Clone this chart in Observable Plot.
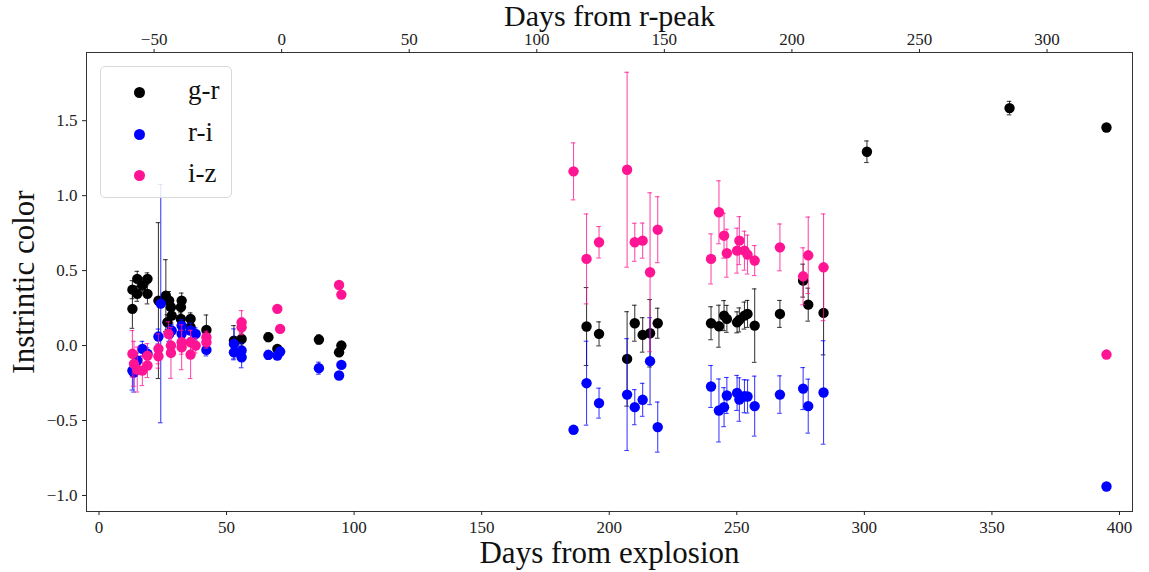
<!DOCTYPE html>
<html>
<head>
<meta charset="utf-8">
<script src="https://cdn.jsdelivr.net/npm/d3@7"></script>
<script src="https://cdn.jsdelivr.net/npm/@observablehq/plot@0.6"></script>
<style>
  body { margin: 0; background: #fff; }
  #wrap { position: relative; width: 1149px; height: 572px; font-family: "Liberation Serif", "DejaVu Serif", serif; }
  #legend { position: absolute; left: 100px; top: 66px; width: 132px; height: 132px; border: 1px solid #d8d8d8; border-radius: 5px; background: rgba(255,255,255,0.85); box-sizing: border-box; }
  .li { position: absolute; left: 0; height: 30px; width: 130px; white-space: nowrap; }
  .li .dot { position: absolute; left: 33px; top: 10px; width: 11px; height: 11px; border-radius: 50%; }
  .li .lab { position: absolute; left: 87px; top: -2px; font-size: 27px; line-height: 30px; color: #111; white-space: nowrap; }
</style>
</head>
<body>
<div id="wrap"></div>
<script>
// ---- data: g-r (black)
const grX = [13.1,13.1,15.0,15.0,17.0,19.0,19.0,23.3,26.2,27.5,28.2,26.8,28.5,32.4,32.1,32.1,35.9,35.9,42.1,52.9,55.9,66.4,69.9,86.2,94.1,95.0,
  191.1,196.0,207.0,210.0,213.1,216.0,219.0,239.9,243.0,245.0,246.1,250.1,251.0,253.0,254.2,257.0,266.9,276.0,278.0,284.0,301.0,356.9,394.9];
const grY = [0.245,0.373,0.445,0.345,0.40,0.445,0.345,0.30,0.333,0.30,0.256,0.155,0.20,0.30,0.256,0.178,0.178,0.122,0.104,0.033,0.044,0.056,-0.022,0.04,-0.045,0.0,
  0.127,0.078,-0.089,0.149,0.071,0.082,0.149,0.149,0.129,0.20,0.178,0.155,0.171,0.20,0.211,0.133,0.211,0.433,0.273,0.218,1.293,1.584,1.455];
const grE = [0.13,0.06,0.05,0.05,0.05,0.04,0.067,0.52,0.24,0.06,0.06,0.05,0.05,0.05,0.06,0.04,0.04,0.04,0.10,0.10,0.04,0.03,0.02,0.03,0.02,0.02,
  0.26,0.08,0.315,0.12,0.115,0.225,0.10,0.11,0.14,0.10,0.09,0.07,0.08,0.09,0.09,0.245,0.09,0.11,0.11,0.28,0.072,0.045,0.0];
// ---- data: r-i (blue)
const riX = [13.1,13.7,15.0,17.0,19.0,23.3,24.2,27.5,28.5,32.4,32.4,35.9,37.9,42.1,52.9,52.9,55.9,55.9,66.4,69.9,71.0,86.2,94.1,95.0,
  186.0,191.1,196.0,207.0,210.0,213.1,216.0,219.0,239.9,243.0,245.0,246.1,250.1,251.0,253.0,254.2,257.0,266.9,276.0,278.0,284.0,394.9];
const riY = [-0.167,-0.18,-0.10,-0.022,-0.055,0.06,0.28,0.078,0.10,0.133,0.078,0.10,0.078,-0.029,0.011,-0.045,-0.033,-0.078,-0.062,-0.067,-0.04,-0.151,-0.20,-0.129,
  -0.562,-0.251,-0.384,-0.327,-0.411,-0.362,-0.104,-0.544,-0.273,-0.433,-0.411,-0.333,-0.316,-0.36,-0.338,-0.34,-0.404,-0.327,-0.287,-0.404,-0.313,-0.94];
const riE = [0.13,0.13,0.05,0.05,0.04,0.05,0.795,0.05,0.04,0.04,0.04,0.05,0.04,0.04,0.10,0.05,0.05,0.07,0.03,0.02,0.02,0.04,0.02,0.02,
  0.0,0.28,0.10,0.373,0.117,0.11,0.29,0.167,0.14,0.21,0.13,0.12,0.117,0.145,0.11,0.11,0.20,0.125,0.14,0.18,0.345,0.0];
// ---- data: i-z (pink)
const izX = [13.1,13.7,15.0,17.0,19.0,19.0,23.3,23.3,27.2,28.2,28.2,32.4,32.4,35.9,35.9,37.9,42.1,42.1,55.9,55.9,69.9,71.0,94.1,95.0,
  186.0,191.1,196.0,207.0,210.0,213.1,216.0,219.0,239.9,243.0,245.0,246.1,250.1,251.0,253.0,254.2,257.0,266.9,276.0,278.0,284.0,394.9];
const izY = [-0.055,-0.122,-0.16,-0.167,-0.133,-0.067,-0.022,-0.071,0.078,-0.049,0.0,-0.011,0.022,0.022,-0.06,0.0,0.056,0.022,0.155,0.122,0.245,0.111,0.404,0.34,
  1.162,0.578,0.689,1.173,0.689,0.70,0.489,0.773,0.578,0.889,0.733,0.616,0.633,0.70,0.633,0.607,0.567,0.655,0.462,0.602,0.522,-0.06];
const izE = [0.155,0.15,0.15,0.10,0.08,0.08,0.10,0.08,0.08,0.17,0.05,0.15,0.08,0.08,0.16,0.05,0.04,0.04,0.078,0.05,0.0,0.0,0.0,0.0,
  0.19,0.30,0.105,0.65,0.127,0.117,0.53,0.22,0.167,0.21,0.15,0.16,0.15,0.16,0.13,0.13,0.10,0.156,0.19,0.255,0.356,0.0];

const seriesNames = ["g-r", "r-i", "i-z"];
const seriesColors = ["#000000", "#0000ff", "#ff1493"];
const bottomTicks = [0, 50, 100, 150, 200, 250, 300, 350, 400];
const topTicks = [-50, 0, 50, 100, 150, 200, 250, 300];
const yTicks = [-1.0, -0.5, 0.0, 0.5, 1.0, 1.5];
const peakOffset = 71.6; // days from explosion at r-peak

const series = [[grX, grY, grE], [riX, riY, riE], [izX, izY, izE]].map(([xs, ys, es], k) =>
  xs.map((x, i) => ({x, y: ys[i], e: es[i], s: seriesNames[k]})));

const minus = s => String(s).replace("-", "\u2212");
const font = "'Liberation Serif', 'DejaVu Serif', serif";

const marks = [];
series.forEach((data, k) => {
  const c = seriesColors[k];
  const withErr = data.filter(d => d.e > 0);
  marks.push(Plot.ruleX(withErr, {x: "x", y1: d => d.y - d.e, y2: d => d.y + d.e, stroke: c, strokeWidth: 1.1, strokeOpacity: 0.75}));
  marks.push(Plot.ruleY(withErr, {y: d => d.y - d.e, x1: d => d.x - 0.9, x2: d => d.x + 0.9, stroke: c, strokeWidth: 1.1, strokeOpacity: 0.75}));
  marks.push(Plot.ruleY(withErr, {y: d => d.y + d.e, x1: d => d.x - 0.9, x2: d => d.x + 0.9, stroke: c, strokeWidth: 1.1, strokeOpacity: 0.75}));
  marks.push(Plot.dot(data, {x: "x", y: "y", r: 5.2, fill: c, stroke: "none"}));
});

const chart = Plot.plot({
  width: 1149,
  height: 572,
  marginLeft: 86,
  marginRight: 17,
  marginTop: 52,
  marginBottom: 61,
  style: {fontFamily: font, fontSize: "17px", color: "#222", background: "#fff"},
  x: {domain: [-4.9, 405.1]},
  y: {domain: [-1.107, 1.955]},
  marks: [
    ...marks,
    Plot.frame({stroke: "#333", strokeWidth: 1}),
    Plot.axisX(bottomTicks, {anchor: "bottom", tickSize: 4, tickPadding: 5, label: null, tickFormat: d => minus(d)}),
    Plot.axisX(topTicks.map(t => t + peakOffset), {anchor: "top", tickSize: 4, tickPadding: 4, label: null, tickFormat: d => minus(Math.round(d - peakOffset))}),
    Plot.axisY(yTicks, {anchor: "left", tickSize: 4, tickPadding: 5, label: null, tickFormat: d => minus(d.toFixed(1))}),
    Plot.text(["Days from explosion"], {frameAnchor: "bottom", lineAnchor: "bottom", dy: 51, fontSize: 31, fill: "#111", textAnchor: "middle"}),
    Plot.text(["Days from r-peak"], {frameAnchor: "top", lineAnchor: "top", dy: -48, fontSize: 30, fill: "#111", textAnchor: "middle"}),
    Plot.text(["Instrintic color"], {frameAnchor: "left", dx: -62, rotate: -90, fontSize: 31, fill: "#111", textAnchor: "middle"})
  ]
});
const wrap = document.getElementById("wrap");
wrap.appendChild(chart);

// legend
const legend = document.createElement("div");
legend.id = "legend";
seriesNames.forEach((name, i) => {
  const item = document.createElement("div");
  item.className = "li";
  item.style.top = (10 + i * 41.5) + "px";
  item.innerHTML = `<span class="dot" style="background:${seriesColors[i]}"></span><span class="lab">${name}</span>`;
  legend.appendChild(item);
});
wrap.appendChild(legend);
</script>
</body>
</html>
